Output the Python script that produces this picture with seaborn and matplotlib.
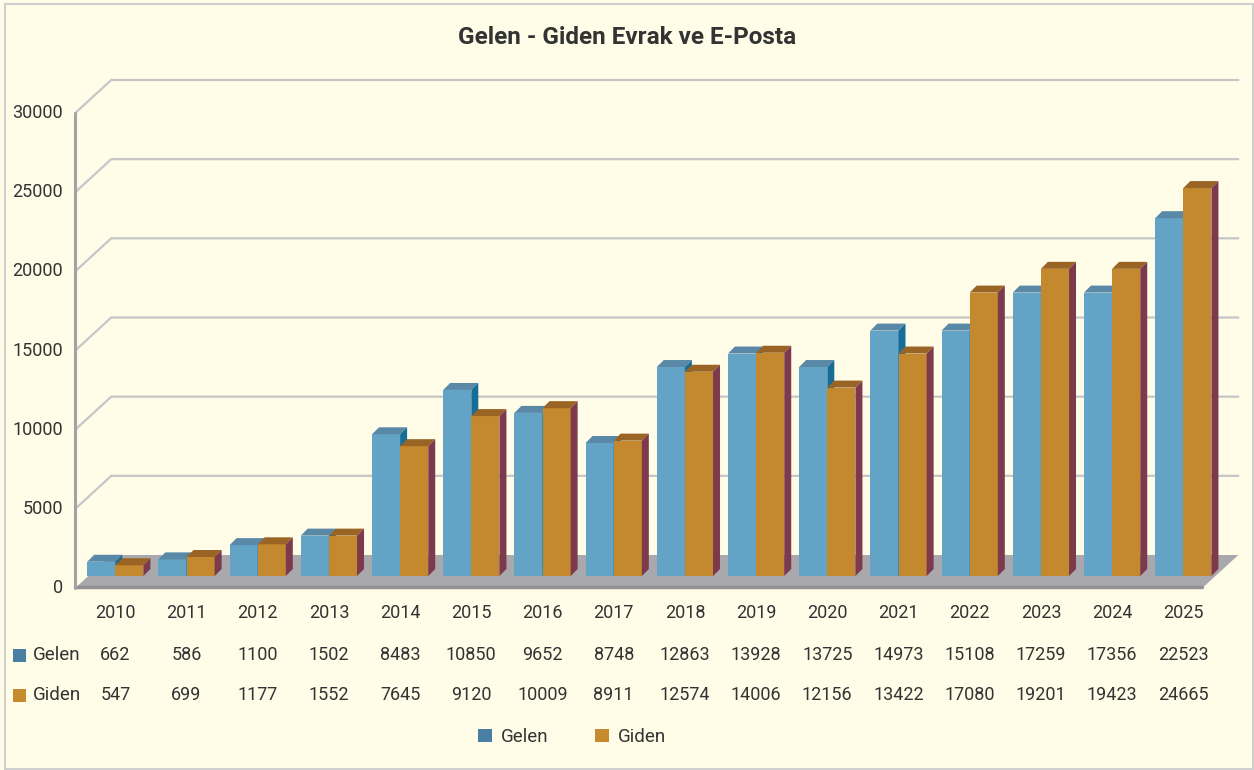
import pandas as pd
import matplotlib.pyplot as plt
import seaborn as sns
from matplotlib.patches import Polygon, Rectangle, Patch
from matplotlib.lines import Line2D
from matplotlib.transforms import IdentityTransform, blended_transform_factory

# Data
years = ['2010', '2011', '2012', '2013', '2014', '2015', '2016', '2017',
         '2018', '2019', '2020', '2021', '2022', '2023', '2024', '2025']
# values printed in the table
gelen = [662, 586, 1100, 1502, 8483, 10850, 9652, 8748,
         12863, 13928, 13725, 14973, 15108, 17259, 17356, 22523]
giden = [547, 699, 1177, 1552, 7645, 9120, 10009, 8911,
         12574, 14006, 12156, 13422, 17080, 19201, 19423, 24665]
# bar heights as drawn in the picture (slightly off from the table)
gelen_bar = [900, 1050, 1950, 2550, 8950, 11750, 10300, 8400,
             13200, 14050, 13200, 15500, 15500, 17900, 17900, 22600]
giden_bar = [680, 1200, 2000, 2550, 8200, 10100, 10600, 8550,
             12900, 14100, 11900, 14050, 17900, 19400, 19400, 24500]
series = ['Gelen', 'Giden']
y_ticks = [0, 5000, 10000, 15000, 20000, 25000, 30000]

df = pd.DataFrame({
    'Yil': years * 2,
    'Seri': ['Gelen'] * len(years) + ['Giden'] * len(years),
    'Deger': gelen_bar + giden_bar,
})

# colours
BG = '#FFFDE8'
TXT = '#333333'
front_col = {'Gelen': '#63A4C6', 'Giden': '#C4882E'}
top_col = {'Gelen': '#5A89A8', 'Giden': '#9A6424'}
side_col = {'Gelen': '#166D97', 'Giden': '#7C3A4C'}
key_col = {'Gelen': '#4A7FA5', 'Giden': '#C68A2F'}
GRID = '#C6C6C6'

sns.set_theme(style='white')
plt.rcParams['font.family'] = ['Roboto', 'DejaVu Sans']

W, H = 1254, 770
fig = plt.figure(figsize=(W / 100, H / 100), dpi=100)
fig.patch.set_facecolor(BG)

# axes = plane the bars stand on
ax = fig.add_axes([79.7 / W, (H - 576) / H, 1139.2 / W, 475 / H])
ax.set_facecolor('none')
sns.barplot(data=df, x='Yil', y='Deger', hue='Seri', palette=front_col,
            width=0.79, saturation=1, legend=False, ax=ax, linewidth=0)
ax.set_xlim(-0.5, 15.5)
ax.set_ylim(0, 30000)
ax.axis('off')

# pseudo 3D offsets (pixels) of front plane and back wall vs. bar plane
FRONT = (-13, -12)
BACK = (23, 21)
DEPTH = 7
x_left, x_right = -0.38, 15.45
ident = IdentityTransform()


def px(x, v, off=(0, 0)):
    X, Y = ax.transData.transform((x, v))
    return (X + off[0], Y + off[1])


def add(artist):
    ax.add_artist(artist)
    artist.set_clip_on(False)


# back wall grid lines + left wall diagonals + tick labels
for v in y_ticks:
    if v > 0:
        a, b, c = px(x_left, v, FRONT), px(x_left, v, BACK), px(x_right, v, BACK)
        add(Line2D([a[0], b[0], c[0]], [a[1], b[1], c[1]], color=GRID,
                   lw=1.6, transform=ident, zorder=1))
    a = px(x_left, v, FRONT)
    ax.text(a[0] - 12, a[1], str(v), transform=ident, ha='right',
            va='center', fontsize=13, color=TXT)

# floor
floor = [px(x_left, 0, FRONT), px(x_right, 0, FRONT),
         px(x_right, 0, BACK), px(x_left, 0, BACK)]
add(Polygon(floor, closed=True, facecolor='#A9A9AD', edgecolor='none',
            transform=ident, zorder=1.5))
a, b = px(x_left, 0, FRONT), px(x_right, 0, FRONT)
add(Line2D([a[0], b[0]], [a[1] + 1, b[1] + 1], color='#929296', lw=2.5,
           transform=ident, zorder=1.6))

# front axis line
a, b = px(x_left, 0, FRONT), px(x_left, 30000, FRONT)
add(Line2D([a[0], b[0]], [a[1], b[1]], color='#A3A3A3', lw=2.2,
           transform=ident, zorder=2))

# 3D tops and sides of the bars
for k, name in enumerate(series):
    z = 3 + k * 0.2
    for p in ax.containers[k]:
        p.set_zorder(z)
        x0, y0 = px(p.get_x(), 0)
        x1, y1 = px(p.get_x() + p.get_width(), p.get_height())
        d = DEPTH
        add(Polygon([(x0, y1), (x1, y1), (x1 + d, y1 + d), (x0 + d, y1 + d)],
                    facecolor=top_col[name], edgecolor='none',
                    transform=ident, zorder=z + 0.1))
        add(Polygon([(x1, y0), (x1, y1), (x1 + d, y1 + d), (x1 + d, y0 + d)],
                    facecolor=side_col[name], edgecolor='none',
                    transform=ident, zorder=z + 0.1))

# title
fig.text(627 / W, 1 - 38 / H, 'Gelen - Giden Evrak ve E-Posta',
         ha='center', va='center', fontsize=17.5, fontweight='bold', color=TXT)

# data table under the chart
tr = blended_transform_factory(ax.transData, ident)
for i, yr in enumerate(years):
    ax.text(i, H - 613, yr, transform=tr, ha='center', va='center',
            fontsize=13, color=TXT)
    ax.text(i, H - 655, str(gelen[i]), transform=tr, ha='center',
            va='center', fontsize=13, color=TXT)
    ax.text(i, H - 695, str(giden[i]), transform=tr, ha='center',
            va='center', fontsize=13, color=TXT)

for name, ypx in zip(series, [655, 695]):
    fig.add_artist(Rectangle((13, H - ypx - 6.5), 12.5, 12.5,
                             facecolor=key_col[name], edgecolor='none',
                             transform=ident))
    fig.text(33 / W, 1 - ypx / H, name, ha='left', va='center',
             fontsize=13.5, color=TXT)

# legend
handles = [Patch(facecolor=key_col[s], edgecolor='none') for s in series]
fig.legend(handles, series, loc='center', bbox_to_anchor=(572 / W, 1 - 737 / H),
           ncol=2, frameon=False, fontsize=13.5, handlelength=0.75,
           handleheight=0.75, handletextpad=0.45, columnspacing=2.5,
           labelcolor=TXT)

# thin frame around the whole picture
fig.add_artist(Rectangle((4.5, 1.5), 1248, 764.5, fill=False,
                         edgecolor='#CFCFCF', lw=1.5, transform=ident))

plt.savefig('out.png', dpi=100, facecolor=BG)
